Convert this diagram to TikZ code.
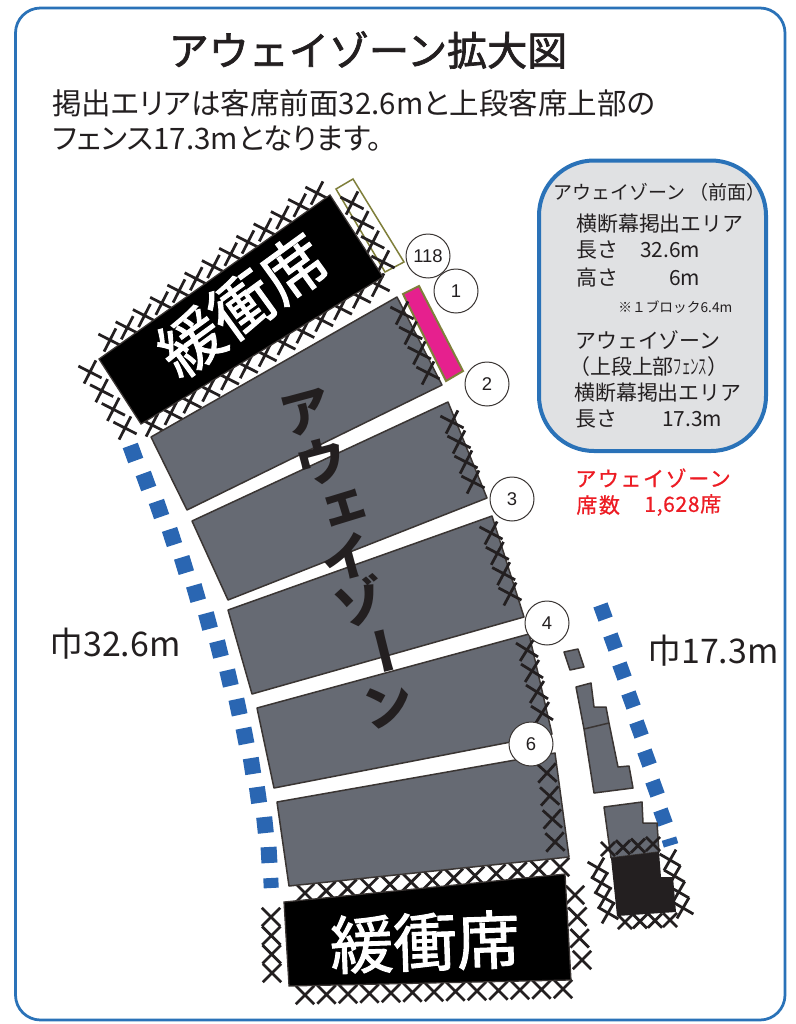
\documentclass[tikz,border=0pt]{standalone}
\usepackage{fontspec}
\setmainfont{Noto Sans CJK JP}
\newfontfamily\jp{Noto Sans CJK JP}
\newfontfamily\jpp[RawFeature=+palt]{Noto Sans CJK JP}
\newfontfamily\jpt[FakeBold=1.8]{Noto Sans CJK JP}
\newfontfamily\jpm[FakeBold=1.5]{Noto Sans CJK JP}
\newfontfamily\jpred[LetterSpace=7,FakeBold=0.7]{Noto Sans CJK JP}
\newfontfamily\jpredn[LetterSpace=3,FakeBold=0.7]{Noto Sans CJK JP}
\newfontfamily\numf{Liberation Sans}
\newcommand{\fs}[1]{\fontsize{#1}{#1}\selectfont}
\definecolor{frameblue}{HTML}{2A72B8}
\definecolor{dotblue}{HTML}{2A66B2}
\definecolor{seatgrey}{HTML}{666A73}
\definecolor{edgeink}{HTML}{3A3533}
\definecolor{ink}{HTML}{231F20}
\definecolor{boxgrey}{HTML}{E0E1E3}
\definecolor{olive}{HTML}{7F7F3A}
\definecolor{mag}{HTML}{E6208E}
\definecolor{redtxt}{HTML}{ED1C24}
\tikzset{
  xs/.style={draw=ink,line width=0.055cm},
  seat/.style={fill=seatgrey,draw=edgeink,line width=0.03cm,line join=round},
  buffer/.style={fill=black,draw=edgeink,line width=0.025cm},
  num/.style={circle,draw=edgeink,line width=0.02cm,minimum size=0.88cm,inner sep=0pt,text=ink,font=\numf\fs{10.5}},
  lab/.style={inner sep=0pt,anchor=west,text=ink},
  big/.style={inner sep=0pt,text=ink,font=\jp\bfseries\fs{28.5}},
  whitebig/.style={inner sep=0pt,text=white,font=\jpm\fs{36}},
}
% row of crosses: x1 y1 x2 y2 n rot half
\newcommand{\xrow}[7]{%
  \foreach \k in {1,...,#5}{%
    \pgfmathsetmacro{\cx}{#1+(#3-(#1))*(\k-1)/(#5-1)}%
    \pgfmathsetmacro{\cy}{#2+(#4-(#2))*(\k-1)/(#5-1)}%
    \draw[xs,shift={(\cx,\cy)},rotate=#6] (-#7,0)--(#7,0) (0,-#7)--(0,#7);
  }%
}
\newcommand{\dotsq}[5]{\fill[dotblue,shift={(#1,#2)},rotate=#5] (-#3/2,-#4/2) rectangle (#3/2,#4/2);}
\begin{document}
\begin{tikzpicture}[x=0.02cm,y=-0.02cm]
\useasboundingbox (0,0) rectangle (795,1024);
\fill[white] (0,0) rectangle (795,1024);
\draw[frameblue,line width=0.055cm,rounded corners=0.5cm] (15.5,8) rectangle (785,1020);

% title and intro
\node[inner sep=0pt,text=ink,font=\jpt\fs{22.8}] (title) at (368,50) {アウェイゾーン拡大図};
\node[lab,font=\jpp\fs{16.8}] (intro1) at (52,103) {掲出エリアは客席前面32.6mと上段客席上部の};
\node[lab,font=\jpp\fs{16.8}] (intro2) at (52,139) {フェンス17.3mとなります。};

% info box
\draw[frameblue,fill=boxgrey,line width=0.08cm,rounded corners=1.1cm] (539,160.5) rectangle (766,451);
\node[lab,font=\jp\fs{10.8}] (b1) at (553,192) {アウェイゾーン};
\node[lab,font=\jp\fs{10.8}] (b1b) at (689,192) {（前面）};
\node[lab,font=\jp\fs{11.9}] (b2) at (576,224) {横断幕掲出エリア};
\node[lab,font=\jp\fs{11.9}] (b3) at (576,250) {長さ};
\node[lab,font=\jp\fs{11.9}] (b3v) at (640,250) {32.6m};
\node[lab,font=\jp\fs{11.9}] (b4) at (576,278) {高さ};
\node[lab,font=\jp\fs{11.9}] (b4v) at (669,278) {6m};
\node[lab,font=\jp\fs{7.8}] (b5) at (618,307) {※１ブロック6.4m};
\node[lab,font=\jp\fs{11.9}] (b6) at (575,340) {アウェイゾーン};
\node[lab,font=\jp\fs{11.9}] (b7) at (569,367) {（上段上部\scalebox{0.4}[1]{フェンス}）};
\node[lab,font=\jp\fs{11.9}] (b8) at (574,393) {横断幕掲出エリア};
\node[lab,font=\jp\fs{11.9}] (b9) at (575,419) {長さ};
\node[lab,font=\jp\fs{11.9}] (b9v) at (662,419) {17.3m};

% red label
\node[lab,text=redtxt,font=\jpred\fs{12}] (r1) at (575,478) {アウェイゾーン};
\node[lab,text=redtxt,font=\jpred\fs{12}] (r2) at (576,505) {席数};
\node[lab,text=redtxt,font=\jpredn\fs{12}] (r3) at (644,505) {1,628席};

% width labels
\node[lab,font=\jp\fs{19.3}] (w1) at (49,644) {巾32.6m};
\node[lab,font=\jp\fs{19.3}] (w2) at (647,651) {巾17.3m};

% blue dots, left
\foreach \x/\y/\r in {133/453/20,146/481/20,159/509/19,172/537/18,184/565/17,196/593/16,208/621/15,219/649/14,229/678/13,238/707/12,245/736/11,252/766/9,258/795/8,265/825/6,269/855/3}{
  \dotsq{\x}{\y}{16}{16}{\r}
}
\dotsq{271}{883}{15}{10}{3}
% blue dots, right
\foreach \x/\y in {603/612,613/642,622/671,631/700,639/729,647/758,655/788,663/817}{
  \dotsq{\x}{\y}{15}{15}{20}
}
\dotsq{670}{842}{15}{7}{17}

% olive frames
\draw[olive,line width=0.03cm,fill=white] (336,189)--(353,179)--(404,262)--(385,272)--cycle;
\draw[olive,line width=0.04cm,fill=mag] (403,294)--(419,286)--(463,371)--(446,381)--cycle;

% crosses around upper buffer
\xrow{110}{340}{317}{193}{13}{-27}{13}
\xrow{152}{425}{378}{285}{13}{-27}{13}
\xrow{90}{372}{125}{428}{4}{-27}{13}
\xrow{352}{203}{383}{262}{4}{-27}{13}
% crosses around lower buffer
\xrow{305}{893}{560}{867}{13}{-45}{13}
\xrow{305}{995}{563}{989}{13}{-45}{13}
\xrow{271}{917}{272}{973}{4}{-45}{13}
\xrow{575}{895}{582}{960}{4}{-45}{13}

% upper buffer
\draw[buffer] (99,359)--(330,195)--(383,277)--(141,424)--cycle;
\node[whitebig,rotate=36] (upper) at (242,305) {緩衝席};

% seat blocks
\path[seat] (151,437)--(397,297)--(442,385)--(187,510)--cycle;
\path[seat] (192,521)--(448,402)--(487,498)--(228,600)--cycle;
\path[seat] (228,610)--(492,516)--(524,617)--(252,694)--cycle;
\path[seat] (257,708)--(529,634)--(552,734)--(274,788)--cycle;
\path[seat] (277,802)--(555,753)--(569,857)--(289,886)--cycle;

% lower buffer (drawn after the last block)
\draw[buffer] (284,902)--(565,874)--(571,980)--(289,986)--cycle;
\node[whitebig,rotate=2] (lower) at (425,942) {緩衝席};

% crosses on the seat blocks
\xrow{402}{313}{428}{373}{4}{-27}{13}
\xrow{452}{422}{473}{482}{4}{-27}{13}
\xrow{491}{533}{510}{594}{4}{-28}{13}
\xrow{527}{650}{542}{713}{4}{-32}{13}
\xrow{547}{773}{555}{842}{4}{-42}{13}

% right-hand stand
\xrow{598}{868}{608}{913}{4}{-30}{12}
\xrow{670}{860}{683}{908}{4}{-30}{12}
\xrow{625}{922}{670}{920}{4}{-45}{10}
\path[seat] (564,652)--(578,649)--(584,667)--(570,670)--cycle;
\path[seat] (576,687)--(591,683)--(594,707)--(606,707)--(609,723)--(618,767)--(629,766)--(633,788)--(594,793)--(584,729)--cycle;
\draw[edgeink,line width=0.03cm] (584,729)--(609,723);
\path[seat] (604,807)--(642,802)--(643,823)--(657,823)--(659,852)--(611,858)--cycle;
\xrow{608}{849}{653}{844}{4}{-45}{10}
\fill[ink] (611,858)--(659,852)--(661,877)--(673,877)--(676,912)--(617,916)--cycle;

% vertical title
\node[big,rotate=15] (a1) at (306,413) {ア};
\node[big,rotate=15] (a2) at (322,462) {ウ};
\node[big,rotate=17] (a3) at (345,508) {ェ};
\node[big,rotate=15] (a4) at (347,557) {イ};
\node[big,rotate=15] (a5) at (360,602) {ゾ};
\node[big,rotate=-76] (a6) at (377,653) {ー};
\node[big,rotate=15] (a7) at (388,705) {ン};

% numbered circles
\node[num] (n118) at (428,256) {118};
\node[num] (n1) at (456,291) {1};
\node[num] (n2) at (487,384) {2};
\node[num] (n3) at (512,499) {3};
\node[num,fill=white] (n4) at (547,623) {4};
\node[num,fill=white] (n6) at (531,744) {6};
\end{tikzpicture}
\end{document}
